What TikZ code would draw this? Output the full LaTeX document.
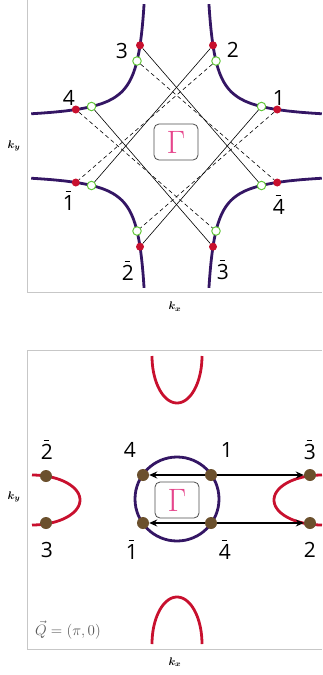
\documentclass[tikz,border=0pt]{standalone}
\usepackage{fix-cm}
\usepackage{graphicx}
\usepackage{fontspec}
\newfontfamily\labelfont{Open Sans}
\usetikzlibrary{arrows.meta}
\definecolor{fermi}{RGB}{52,22,100}
\definecolor{hotred}{RGB}{200,16,46}
\definecolor{opengreen}{RGB}{100,200,60}
\definecolor{brownpt}{RGB}{107,80,45}
\definecolor{gammapink}{RGB}{230,70,140}
\newcommand{\bnum}[1]{\makebox[0pt][l]{\hspace{0.13em}\raisebox{0.9em}{\rule{0.25em}{0.05em}}}#1}
\newcommand{\bigG}{\scalebox{1.35}{$\Gamma$}}
\tikzset{
    panel/.style={draw=black!22, line width=0.9pt},
    fermi/.style={draw=fermi, line width=2.8pt},
    pocket/.style={draw=hotred, line width=2.8pt},
    hot/.style={circle, fill=hotred, inner sep=0pt, minimum size=8pt},
    cold/.style={circle, draw=opengreen, fill=white, line width=1pt, inner sep=0pt, minimum size=8.5pt},
    spot/.style={circle, fill=brownpt, inner sep=0pt, minimum size=12pt},
    num/.style={font=\labelfont\fontsize{21}{21}\selectfont, inner sep=0pt, text height=15pt, text depth=0pt},
    gbox/.style={draw=black!70, rounded corners=5pt, line width=0.8pt, minimum width=44pt, minimum height=36pt, inner sep=0pt, text=gammapink, font=\fontsize{24}{24}\selectfont},
    klabel/.style={font=\fontsize{11}{11}\selectfont\boldmath, inner sep=0pt},
    nest/.style={-{Stealth[length=8pt,width=7pt]}, line width=1.5pt}
}

\begin{document}
\begin{tikzpicture}[x=1pt, y=-1pt]
\useasboundingbox (0,0) rectangle (322,675);

% top panel: Fermi surface with hot spots
\draw[panel] (27,0) -- (27,292) -- (322,292);
\foreach \sx/\sy in {-1/-1,1/-1,-1/1,1/1}
    \draw[fermi] plot[domain=2.007:4.79, samples=60, smooth, variable=\s]
        ({176.5+(\sx)*(25+exp(\s))},{146+(\sy)*(25+870*exp(-\s))});

\node[hot] (r3) at (140,45.3) {};
\node[cold] (g3) at (137,61) {};
\node[hot] (r4) at (75.8,109.5) {};
\node[cold] (g4) at (91.5,106.5) {};
\node[hot] (r2) at (213,45.3) {};
\node[cold] (g2) at (216,61) {};
\node[hot] (r1) at (277.2,109.5) {};
\node[cold] (g1) at (261.5,106.5) {};
\node[hot] (rb1) at (75.8,182.5) {};
\node[cold] (gb1) at (91.5,185.5) {};
\node[hot] (rb2) at (140,246.7) {};
\node[cold] (gb2) at (137,231) {};
\node[hot] (rb4) at (277.2,182.5) {};
\node[cold] (gb4) at (261.5,185.5) {};
\node[hot] (rb3) at (213,246.7) {};
\node[cold] (gb3) at (216,231) {};

\draw[line width=0.6pt] (r3) -- (gb4);
\draw[line width=0.6pt] (g4) -- (rb3);
\draw[line width=0.6pt] (r2) -- (gb1);
\draw[line width=0.6pt] (g1) -- (rb2);
\draw[line width=0.6pt, dash pattern=on 4pt off 3pt] (g3) -- (rb4);
\draw[line width=0.6pt, dash pattern=on 4pt off 3pt] (r4) -- (gb3);
\draw[line width=0.6pt, dash pattern=on 4pt off 3pt] (g2) -- (rb1);
\draw[line width=0.6pt, dash pattern=on 4pt off 3pt] (r1) -- (gb2);

\node[num] (l3) at (122,51) {3};
\node[num] (l2) at (233,50) {2};
\node[num] (l4) at (69,98) {4};
\node[num] (l1) at (279,98) {1};
\node[num] (lb1) at (69,203) {\bnum{1}};
\node[num] (lb4) at (279,207) {\bnum{4}};
\node[num] (lb2) at (128,273) {\bnum{2}};
\node[num] (lb3) at (223,272) {\bnum{3}};

\node[gbox] (G1) at (176,142) {\bigG};
\node[klabel] (ky1) at (14,146) {$k_y$};
\node[klabel] (kx1) at (175,307) {$k_x$};

% bottom panel: nesting with Q = (pi,0)
\draw[panel] (322,350) -- (27,350) -- (27,649) -- (322,649);
\draw[fermi] (177,499) circle[radius=42pt];
\draw[pocket] plot[domain=0:180, samples=50, smooth, variable=\a] ({177+25*cos(\a)},{356+47*sin(\a)});
\draw[pocket] plot[domain=0:180, samples=50, smooth, variable=\a] ({177+25*cos(\a)},{644-47*sin(\a)});
\draw[pocket] plot[domain=-90:90, samples=50, smooth, variable=\a] ({32+48*cos(\a)},{500+25*sin(\a)});
\draw[pocket] plot[domain=90:270, samples=50, smooth, variable=\a] ({322+48*cos(\a)},{500+25*sin(\a)});

\node[spot] (b4) at (143,475) {};
\node[spot] (b1) at (211,475) {};
\node[spot] (bb1) at (143,523) {};
\node[spot] (bb4) at (211,523) {};
\node[spot] (bb3) at (310,475) {};
\node[spot] (b2) at (310,523) {};
\node[spot] (bb2) at (46,476) {};
\node[spot] (b3) at (46,523) {};

\draw[nest] (b1) -- (b4);
\draw[nest] (b1) -- (bb3);
\draw[nest] (bb4) -- (bb1);
\draw[nest] (bb4) -- (b2);

\node[num] (m2b) at (47,452) {\bnum{2}};
\node[num] (m4) at (130,450) {4};
\node[num] (m1) at (227,450) {1};
\node[num] (m3b) at (310,452) {\bnum{3}};
\node[num] (m3) at (47,550) {3};
\node[num] (m1b) at (132,552) {\bnum{1}};
\node[num] (m4b) at (225,552) {\bnum{4}};
\node[num] (m2) at (310,550) {2};

\node[gbox] (G2) at (177,500) {\bigG};
\node[text=black!65, font=\fontsize{15}{15}\selectfont, inner sep=0pt] (Q) at (68,630) {$\vec{Q}=(\pi,0)$};
\node[klabel] (ky2) at (14,497) {$k_y$};
\node[klabel] (kx2) at (175,662) {$k_x$};
\end{tikzpicture}
\end{document}
